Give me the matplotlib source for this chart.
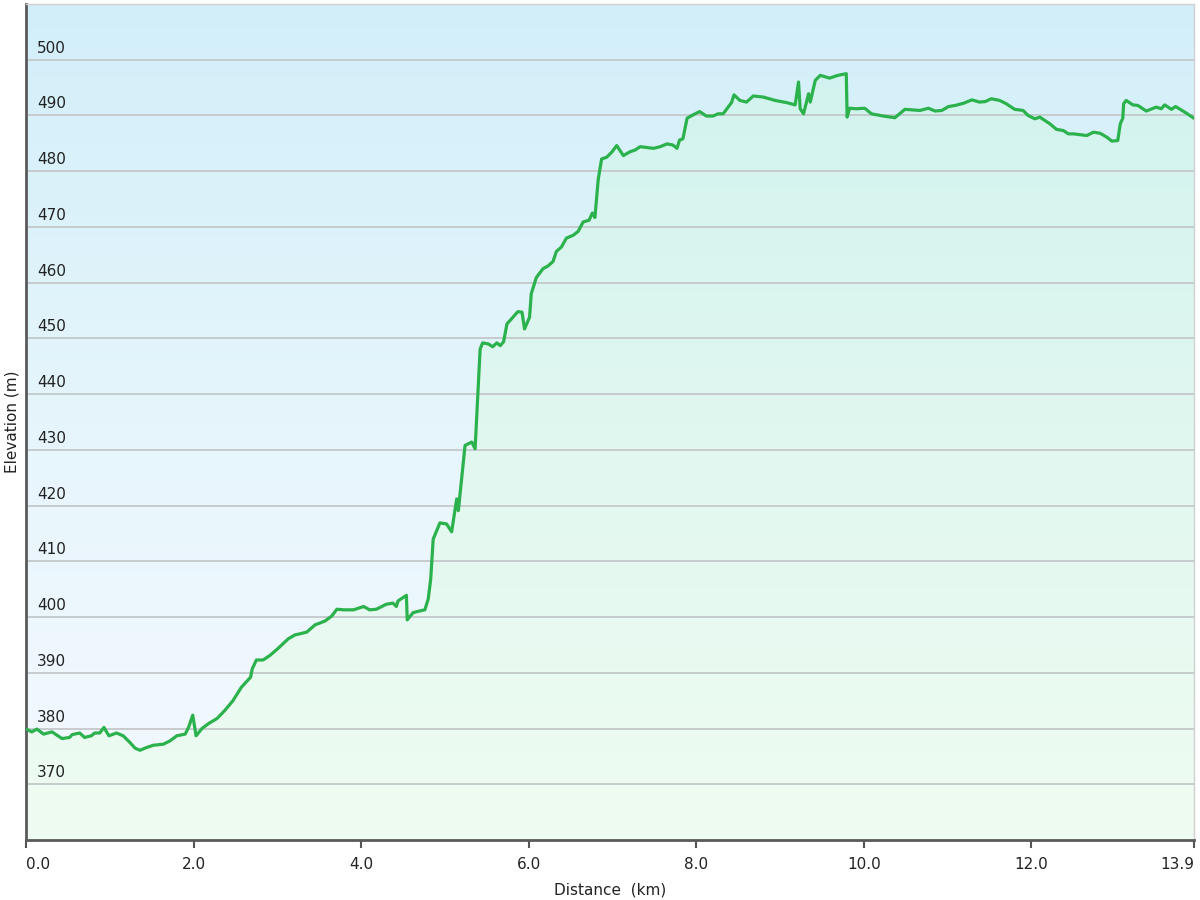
import numpy as np
import matplotlib
matplotlib.use('Agg')
import matplotlib.pyplot as plt
from matplotlib.colors import LinearSegmentedColormap
from matplotlib.patches import Polygon
from matplotlib.transforms import offset_copy, blended_transform_factory

# Elevation profile (distance in km, elevation in m)
distance = [0.00, 0.07, 0.13, 0.21, 0.31, 0.43, 0.52, 0.55, 0.64, 0.70, 0.78, 0.82, 0.88,
            0.93, 0.99, 1.08, 1.16, 1.24, 1.30, 1.36, 1.44, 1.52, 1.64, 1.72, 1.80, 1.90,
            1.94, 1.99, 2.03, 2.10, 2.18, 2.28, 2.37, 2.47, 2.57, 2.68, 2.70, 2.75, 2.83,
            2.91, 3.01, 3.13, 3.21, 3.27, 3.35, 3.45, 3.57, 3.65, 3.71, 3.79, 3.91, 4.03,
            4.10, 4.18, 4.30, 4.38, 4.42, 4.44, 4.54, 4.55, 4.62, 4.70, 4.76, 4.80, 4.83,
            4.86, 4.94, 5.02, 5.08, 5.14, 5.16, 5.24, 5.32, 5.36, 5.42, 5.45, 5.52, 5.57,
            5.62, 5.66, 5.70, 5.74, 5.80, 5.87, 5.92, 5.95, 6.01, 6.03, 6.09, 6.17, 6.23,
            6.29, 6.33, 6.39, 6.45, 6.53, 6.59, 6.65, 6.72, 6.76, 6.79, 6.83, 6.87, 6.93,
            6.99, 7.05, 7.13, 7.21, 7.27, 7.33, 7.49, 7.57, 7.65, 7.72, 7.77, 7.80, 7.84,
            7.89, 7.96, 8.04, 8.12, 8.20, 8.26, 8.32, 8.38, 8.42, 8.45, 8.52, 8.60, 8.68,
            8.80, 8.94, 9.08, 9.18, 9.22, 9.24, 9.28, 9.34, 9.36, 9.42, 9.48, 9.59, 9.69,
            9.79, 9.80, 9.83, 9.91, 10.01, 10.09, 10.23, 10.37, 10.49, 10.67, 10.77, 10.85,
            10.93, 11.01, 11.09, 11.19, 11.29, 11.38, 11.45, 11.52, 11.62, 11.70, 11.80,
            11.90, 11.96, 12.04, 12.10, 12.16, 12.22, 12.30, 12.38, 12.44, 12.50, 12.60,
            12.66, 12.74, 12.82, 12.90, 12.96, 13.03, 13.06, 13.09, 13.10, 13.13, 13.21,
            13.27, 13.37, 13.49, 13.55, 13.59, 13.67, 13.72, 13.83, 13.94]
elevation = [379.9, 379.4, 379.9, 379.0, 379.4, 378.2, 378.4, 378.9, 379.2, 378.4, 378.7, 379.2, 379.2,
             380.2, 378.7, 379.2, 378.7, 377.5, 376.5, 376.1, 376.6, 377.0, 377.2, 377.8, 378.7, 379.0,
             380.2, 382.4, 378.7, 380.0, 380.9, 381.8, 383.2, 385.0, 387.4, 389.2, 390.7, 392.3, 392.3,
             393.1, 394.4, 396.1, 396.8, 397.0, 397.3, 398.6, 399.3, 400.2, 401.4, 401.3, 401.3, 401.9,
             401.3, 401.4, 402.3, 402.5, 401.9, 402.9, 403.9, 399.5, 400.8, 401.1, 401.3, 403.2, 406.8,
             414.0, 416.9, 416.7, 415.3, 421.2, 419.1, 430.8, 431.4, 430.2, 448.1, 449.2, 449.0, 448.5,
             449.2, 448.7, 449.4, 452.6, 453.6, 454.8, 454.7, 451.7, 453.8, 458.0, 460.9, 462.5, 463.0,
             463.8, 465.6, 466.4, 468.0, 468.5, 469.2, 470.9, 471.2, 472.5, 471.7, 478.6, 482.2, 482.5,
             483.4, 484.6, 482.8, 483.5, 483.8, 484.4, 484.1, 484.4, 484.9, 484.7, 484.1, 485.6, 485.8,
             489.5, 490.1, 490.7, 489.9, 489.9, 490.3, 490.3, 491.5, 492.3, 493.7, 492.7, 492.4, 493.5,
             493.3, 492.7, 492.3, 491.9, 496.0, 491.2, 490.3, 493.9, 492.4, 496.3, 497.2, 496.7, 497.2,
             497.5, 489.7, 491.3, 491.2, 491.3, 490.3, 489.9, 489.6, 491.1, 490.9, 491.3, 490.8,
             490.9, 491.6, 491.8, 492.2, 492.8, 492.4, 492.5, 493.0, 492.7, 492.1, 491.1,
             490.9, 490.0, 489.4, 489.7, 489.1, 488.5, 487.5, 487.3, 486.7, 486.7, 486.5,
             486.4, 487.0, 486.8, 486.1, 485.4, 485.5, 488.5, 489.5, 492.1, 492.7, 491.9,
             491.8, 490.8, 491.5, 491.2, 491.9, 491.1, 491.6, 490.6, 489.5]

x_ticks = [0.0, 2.0, 4.0, 6.0, 8.0, 10.0, 12.0, 13.94]
x_tick_labels = ['0.0', '2.0', '4.0', '6.0', '8.0', '10.0', '12.0', '13.9']
y_ticks = [370, 380, 390, 400, 410, 420, 430, 440, 450, 460, 470, 480, 490, 500]

X_MAX = 13.94
Y_MIN, Y_MAX = 360, 510

fig = plt.figure(figsize=(12, 9), dpi=100)
ax = fig.add_axes([26 / 1200, 60 / 900, 1168 / 1200, 836 / 900])
ax.set_xlim(0, X_MAX)
ax.set_ylim(Y_MIN, Y_MAX)

# Background gradient (light blue at the top, nearly white at the bottom)
bg_cmap = LinearSegmentedColormap.from_list('bg', ['#f4faff', '#e6f5fc', '#d2eff9'])
grad = np.linspace(0, 1, 256).reshape(-1, 1)
ax.imshow(grad, extent=[0, X_MAX, Y_MIN, Y_MAX], origin='lower', aspect='auto',
          cmap=bg_cmap, zorder=0, interpolation='bicubic')

# Area under the profile (green tint gradient), clipped to the profile
fill_cmap = LinearSegmentedColormap.from_list('fill', ['#effcf2', '#e0f7ef', '#d0f2f0'])
fill_img = ax.imshow(grad, extent=[0, X_MAX, Y_MIN, Y_MAX], origin='lower', aspect='auto',
                     cmap=fill_cmap, zorder=0.2, interpolation='bicubic')
verts = np.column_stack([[distance[0]] + distance + [distance[-1]],
                         [Y_MIN] + elevation + [Y_MIN]])
poly = Polygon(verts, closed=True, facecolor='none', edgecolor='none', transform=ax.transData)
ax.add_patch(poly)
fill_img.set_clip_path(poly)

ax.plot(distance, elevation, color='#2bb24c', linewidth=2.3, zorder=3, solid_joinstyle='round')

# Grid
ax.set_yticks(y_ticks)
ax.grid(axis='y', color='#c4c8ca', linewidth=1.3)
ax.set_axisbelow(True)
ax.tick_params(axis='y', length=0, labelleft=False)

# Y labels sit inside the plot, just above each grid line
trans = offset_copy(blended_transform_factory(ax.transAxes, ax.transData),
                    fig=fig, x=11, y=4, units='dots')
for v in y_ticks:
    ax.text(0, v, str(v), transform=trans, ha='left', va='bottom',
            fontsize=11, color='#222222', zorder=4)

ax.set_xticks(x_ticks)
ax.set_xticklabels(x_tick_labels, fontsize=11, color='#222222')
ax.tick_params(axis='x', length=6, width=1.5, color='#555555', pad=6)
labels = ax.get_xticklabels()
labels[0].set_ha('left')
labels[-1].set_ha('right')

for side in ['left', 'bottom']:
    ax.spines[side].set_color('#5a5a5a')
    ax.spines[side].set_linewidth(2)
for side in ['top', 'right']:
    ax.spines[side].set_color('#d0d0d0')
    ax.spines[side].set_linewidth(1)

ax.set_xlabel('Distance  (km)', fontsize=11, color='#222222', labelpad=8)
ax.set_ylabel('Elevation (m)', fontsize=11, color='#222222', labelpad=5)

fig.savefig('out.png', dpi=100)
